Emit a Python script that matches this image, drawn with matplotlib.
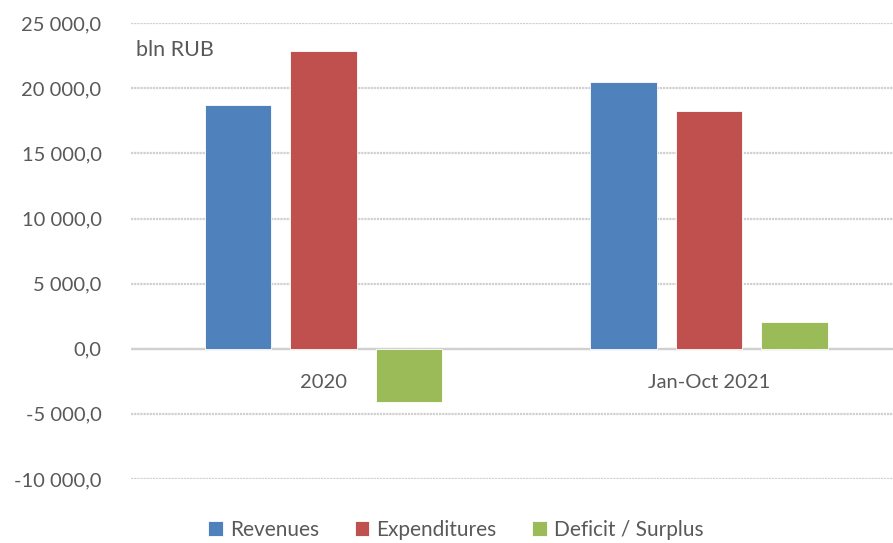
import numpy as np
import matplotlib.pyplot as plt
from matplotlib.ticker import FuncFormatter

categories = ['2020', 'Jan-Oct 2021']
revenues = [18690, 20460]
expenditures = [22840, 18280]
balance = [-4120, 2030]
series_names = ['Revenues', 'Expenditures', 'Deficit / Surplus']
colors = ['#4F81BD', '#C0504D', '#9BBB59']

plt.rcParams['font.family'] = ['Lato', 'DejaVu Sans']
text_color = '#595959'

fig = plt.figure(figsize=(8.93, 5.43), dpi=100)
ax = fig.add_axes([130.75 / 893, (543 - 478.9) / 543, (893 - 130.75) / 893, (478.9 - 23.2) / 543])

x = np.arange(len(categories))
width = 0.1725
step = 0.2218
for i, (vals, name, col) in enumerate(zip([revenues, expenditures, balance], series_names, colors)):
    ax.bar(x + (i - 1) * step, vals, width, color=col, edgecolor='white', linewidth=0.6,
           label=name, zorder=3)

ax.set_ylim(-10000, 25000)
ax.set_xlim(-0.5, -0.5 + (893 - 130.75) / 385.5)
ax.set_yticks(np.arange(-10000, 25001, 5000))


def fmt(v, pos):
    s = '{:,.1f}'.format(v).replace(',', ' ').replace('.', ',')
    return s


ax.yaxis.set_major_formatter(FuncFormatter(fmt))
ax.grid(axis='y', color='#d0d0d0', linewidth=1.6, linestyle=(0, (1, 0.4)), zorder=0)
ax.axhline(0, color='#d0d0d0', linewidth=1.6, zorder=1)

for s in ['left', 'right', 'top']:
    ax.spines[s].set_visible(False)
ax.spines['bottom'].set_position(('data', 0))
ax.spines['bottom'].set_visible(False)

ax.set_xticks(x)
ax.set_xticklabels(categories)
ax.tick_params(axis='x', length=0, pad=18, labelsize=14.5, labelcolor=text_color)
ax.tick_params(axis='y', length=0, pad=21, labelsize=14.5, labelcolor=text_color)

ax.text(136 / 893, 1 - 50 / 543, 'bln RUB', transform=fig.transFigure, fontsize=15.5,
        color=text_color, va='center', ha='left')

leg = fig.legend(loc='center', bbox_to_anchor=(456 / 893, 1 - 530 / 543), ncol=3, frameon=False,
                 fontsize=15, handlelength=0.7, handleheight=0.7, handletextpad=0.35,
                 columnspacing=1.7)
for t in leg.get_texts():
    t.set_color(text_color)

fig.savefig('out.png', dpi=100)
